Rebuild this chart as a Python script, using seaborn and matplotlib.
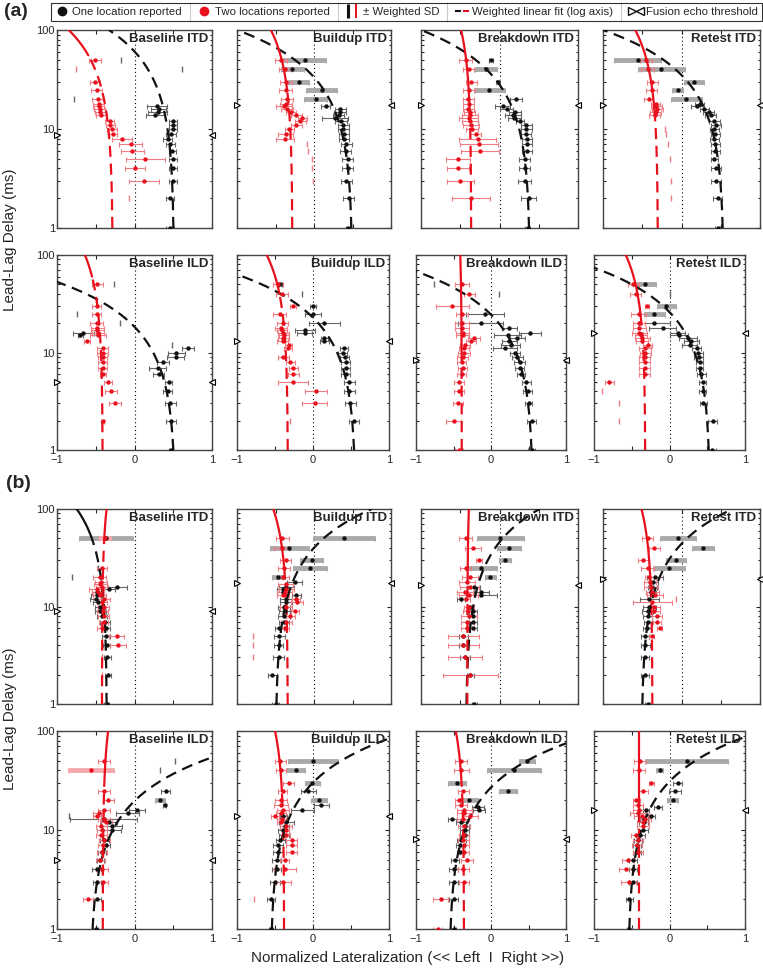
import numpy as np
import matplotlib
matplotlib.use("Agg")
import matplotlib.pyplot as plt
import seaborn as sns
from matplotlib.lines import Line2D
from matplotlib.legend_handler import HandlerTuple
from matplotlib.ticker import NullFormatter

N = np.nan

# lead-lag delays (ms) at which the lateralization was measured
delays = [1, 2, 3, 4, 5, 6, 7, 8, 9, 10, 11, 12, 13, 14, 15, 16, 17, 18, 20, 25, 30, 40, 50]

# ---------------- (a) ITD ----------------
a_base_itd_red_x = [N, -0.07, 0.12, 0.01, 0.14, -0.03, -0.05, -0.16, -0.28, -0.29, -0.31, -0.32, N, -0.43, -0.44, -0.45, -0.46, -0.46, -0.47, -0.49, -0.51, -0.75, -0.51]
a_base_itd_red_sd = [N, 0, 0.19, 0.13, 0.25, 0.15, 0.15, 0.13, 0.06, 0.06, 0.06, 0.06, N, 0.07, 0.07, 0.07, 0.07, 0.07, 0.08, 0.07, 0.07, 0, 0.08]
a_base_itd_blk_x = [0.46, 0.46, 0.5, 0.5, 0.5, 0.49, 0.46, 0.43, 0.47, 0.5, 0.5, 0.5, N, 0.27, 0.3, 0.31, 0.29, N, -0.78, N, N, 0.61, -0.17]
a_base_itd_blk_sd = [0.05, 0.05, 0.05, 0.05, 0.05, 0.05, 0.06, 0.06, 0.06, 0.05, 0.05, 0.05, N, 0.12, 0.12, 0.1, 0.13, N, 0, N, N, 0, 0]

a_build_itd_red_x = [N, N, -0.01, -0.03, -0.02, -0.08, -0.09, -0.38, -0.37, -0.32, -0.23, -0.18, -0.15, -0.23, -0.3, -0.35, -0.39, -0.36, -0.35, -0.37, -0.36, -0.38, -0.43]
a_build_itd_red_sd = [N, N, 0, 0, 0, 0, 0, 0.12, 0.1, 0.06, 0.07, 0.07, 0.06, 0.07, 0.07, 0.08, 0.1, 0.08, 0.08, 0.08, 0.08, 0.08, 0.08]
a_build_itd_blk_x = [0.44, 0.45, 0.42, 0.44, 0.44, 0.41, 0.42, 0.39, 0.39, 0.38, 0.38, 0.35, 0.27, 0.32, 0.34, 0.34, 0.15, N, 0.02, 0.1, -0.2, -0.28, -0.12]
a_build_itd_blk_sd = [0.03, 0.07, 0.07, 0.07, 0.07, 0.07, 0.07, 0.07, 0.07, 0.07, 0.07, 0.08, 0.17, 0.07, 0.08, 0.07, 0.06, N, 0.15, 0.2, 0.14, 0.15, 0.28]

a_brk_itd_red_x = [N, -0.36, -0.5, -0.53, -0.53, -0.25, -0.26, -0.28, -0.3, -0.35, -0.36, -0.38, -0.39, -0.38, -0.38, -0.4, N, -0.39, -0.4, -0.39, -0.36, -0.39, -0.43]
a_brk_itd_red_sd = [N, 0.24, 0.17, 0.14, 0.15, 0.24, 0.24, 0.23, 0.07, 0.08, 0.1, 0.1, 0.12, 0.1, 0.07, 0.07, N, 0.07, 0.07, 0.08, 0.07, 0.07, 0.08]
a_brk_itd_blk_x = [0.36, 0.37, 0.32, 0.32, 0.32, 0.35, 0.35, 0.35, 0.34, 0.34, 0.34, 0.26, 0.19, 0.17, 0.2, 0.09, 0.04, N, 0.21, -0.13, -0.02, -0.17, -0.11]
a_brk_itd_blk_sd = [0.03, 0.1, 0.08, 0.07, 0.07, 0.06, 0.06, 0.06, 0.06, 0.07, 0.07, 0.05, 0.08, 0.1, 0.08, 0.08, 0.1, N, 0.08, 0.2, 0.02, 0.14, 0.03]

a_ret_itd_red_x = [N, -0.14, -0.13, N, -0.15, N, -0.17, N, -0.2, -0.21, N, N, N, -0.34, -0.33, -0.31, -0.32, -0.33, -0.42, -0.38, -0.37, -0.43, -0.45]
a_ret_itd_red_sd = [N, 0, 0, N, 0, N, 0, N, 0, 0, N, N, N, 0.07, 0.07, 0.07, 0.07, 0.06, 0.06, 0.07, 0.07, 0.08, 0.08]
a_ret_itd_blk_x = [0.46, 0.46, 0.44, 0.44, 0.42, 0.43, 0.43, 0.42, 0.43, 0.42, 0.44, 0.42, N, 0.37, 0.35, 0.29, 0.2, 0.23, 0.06, -0.05, 0.16, -0.26, -0.56]
a_ret_itd_blk_sd = [0.03, 0.06, 0.06, 0.06, 0.05, 0.06, 0.06, 0.06, 0.06, 0.06, 0.06, 0.07, N, 0.07, 0.07, 0.06, 0.08, 0.06, 0.2, 0.07, 0.13, 0.3, 0.3]

# ---------------- (a) ILD ----------------
a_base_ild_red_x = [N, -0.41, -0.25, -0.3, -0.34, -0.41, -0.41, -0.41, -0.41, -0.41, -0.41, N, -0.61, N, -0.47, -0.47, -0.48, -0.48, -0.49, -0.49, -0.49, N, -0.48]
a_base_ild_red_sd = [N, 0.02, 0.08, 0.08, 0.05, 0.04, 0.06, 0.06, 0.06, 0.07, 0.07, N, 0.04, N, 0.1, 0.08, 0.08, 0.08, 0.08, 0.06, 0.06, N, 0.07]
a_base_ild_blk_x = [0.47, 0.47, 0.46, 0.43, 0.44, 0.31, 0.3, 0.37, 0.53, 0.54, 0.69, 0.49, N, N, -0.7, -0.66, N, N, -0.19, -0.74, N, N, -0.27]
a_base_ild_blk_sd = [0.03, 0.07, 0.07, 0.06, 0.05, 0.07, 0.11, 0.08, 0.11, 0.11, 0.08, 0, N, N, 0.03, 0.14, N, N, 0, 0, N, N, 0]

a_build_ild_red_x = [N, -0.3, 0.02, 0.04, -0.26, -0.26, -0.26, -0.3, -0.39, N, -0.33, -0.32, -0.4, -0.39, -0.38, -0.39, -0.41, -0.42, -0.4, -0.44, -0.26, -0.41, -0.46]
a_build_ild_red_sd = [N, 0, 0.17, 0.14, 0.2, 0.07, 0.06, 0.06, 0.07, N, 0.05, 0.05, 0.07, 0.07, 0.07, 0.07, 0.07, 0.08, 0.07, 0.08, 0.04, 0.08, 0.07]
a_build_ild_blk_x = [N, 0.54, 0.49, 0.48, 0.48, 0.43, 0.43, 0.43, 0.42, 0.39, 0.41, N, 0.15, 0.15, N, -0.11, -0.11, N, 0.15, 0.0, 0.0, -0.14, -0.43]
a_build_ild_blk_sd = [N, 0.07, 0.07, 0.07, 0.07, 0.06, 0.06, 0.06, 0.06, 0.06, 0.05, N, 0.06, 0.05, N, 0.1, 0.13, N, 0.2, 0.1, 0.04, 0, 0.02]

a_brk_ild_red_x = [-0.43, -0.5, -0.44, -0.43, -0.43, -0.39, -0.38, -0.39, -0.38, -0.36, -0.36, -0.35, -0.27, -0.23, -0.38, -0.38, N, -0.39, -0.39, -0.39, -0.52, -0.29, -0.39]
a_brk_ild_red_sd = [0.05, 0.1, 0.07, 0.07, 0.07, 0.06, 0.06, 0.06, 0.07, 0.08, 0.07, 0.07, 0.07, 0.08, 0.09, 0.09, N, 0.09, 0.09, 0.08, 0.22, 0.07, 0.09]
a_brk_ild_blk_x = [0.54, 0.54, 0.5, 0.49, 0.47, 0.4, 0.38, 0.38, 0.35, 0.32, 0.19, 0.26, 0.24, 0.35, 0.22, 0.52, N, 0.24, -0.14, -0.08, N, 0.1, -0.76]
a_brk_ild_blk_sd = [0.05, 0.06, 0.05, 0.06, 0.06, 0.05, 0.06, 0.07, 0.07, 0.07, 0.16, 0.13, 0.1, 0.1, 0.18, 0.15, N, 0.1, 0.3, 0.25, N, 0, 0]

a_ret_ild_red_x = [N, -0.67, -0.67, -0.89, -0.8, -0.33, -0.33, -0.33, -0.33, -0.32, -0.33, -0.29, -0.36, -0.36, -0.38, -0.4, N, -0.4, -0.41, -0.41, -0.3, -0.45, -0.48]
a_ret_ild_red_sd = [N, 0, 0, 0, 0.06, 0.07, 0.07, 0.07, 0.07, 0.07, 0.08, 0.06, 0.08, 0.1, 0.08, 0.1, N, 0.09, 0.08, 0.1, 0.03, 0.07, 0.07]
a_ret_ild_blk_x = [0.56, 0.57, 0.45, 0.44, 0.44, 0.42, 0.4, 0.4, 0.39, 0.38, 0.36, 0.27, 0.29, 0.24, 0.13, 0.11, N, -0.09, -0.2, -0.2, -0.04, 0.0, -0.33]
a_ret_ild_blk_sd = [0.05, 0.06, 0.05, 0.05, 0.05, 0.06, 0.05, 0.05, 0.06, 0.06, 0.06, 0.1, 0.1, 0.12, 0.12, 0.1, N, 0.18, 0.2, 0.14, 0.13, 0, 0.15]

# ---------------- (b) ITD ----------------
b_base_itd_red_x = [-0.42, -0.42, -0.42, -0.21, -0.23, -0.42, -0.4, -0.4, -0.41, -0.4, -0.42, -0.4, -0.45, -0.47, -0.49, -0.42, -0.44, -0.43, -0.45, -0.42, N, N, -0.38]
b_base_itd_red_sd = [0, 0, 0, 0.1, 0.1, 0.06, 0.06, 0.07, 0.07, 0.07, 0.07, 0.08, 0.08, 0.08, 0.1, 0.08, 0.08, 0.08, 0.08, 0.07, N, N, 0.08]
b_base_itd_blk_x = [-0.36, -0.34, -0.35, -0.36, -0.37, -0.37, -0.38, -0.42, -0.44, -0.45, -0.47, -0.5, -0.49, -0.49, -0.33, -0.22, N, N, -0.81, -0.47, N, N, -0.37]
b_base_itd_blk_sd = [0.03, 0.04, 0.05, 0.05, 0.05, 0.05, 0.06, 0.06, 0.07, 0.06, 0.06, 0.07, 0.07, 0.06, 0.08, 0.12, N, N, 0, 0, N, N, 0.35]

b_build_itd_red_x = [N, N, -0.79, -0.79, -0.79, -0.38, -0.36, -0.31, -0.25, -0.36, -0.22, -0.23, -0.4, -0.38, -0.36, N, -0.37, N, -0.4, -0.39, -0.37, -0.42, -0.41]
b_build_itd_red_sd = [N, N, 0, 0, 0, 0.06, 0.07, 0.06, 0.05, 0.08, 0.08, 0.05, 0.08, 0.1, 0.1, N, 0.1, N, 0.08, 0.08, 0.07, 0.1, 0.08]
b_build_itd_blk_x = [-0.5, -0.54, -0.46, -0.46, -0.45, -0.45, -0.39, -0.39, -0.38, -0.39, -0.36, -0.36, -0.23, -0.4, -0.4, -0.36, N, -0.25, -0.47, -0.05, -0.03, -0.32, 0.39]
b_build_itd_blk_sd = [0.05, 0.06, 0.07, 0.06, 0.07, 0.06, 0.06, 0.08, 0.07, 0.08, 0.08, 0.08, 0.06, 0.08, 0.08, 0.1, N, 0.1, 0.07, 0.22, 0.15, 0.25, 0.4]

b_brk_itd_red_x = [N, -0.37, -0.44, -0.46, -0.46, -0.41, -0.41, -0.39, -0.4, -0.39, N, -0.43, -0.39, -0.44, N, -0.38, N, -0.41, -0.38, -0.43, -0.26, -0.34, -0.43]
b_brk_itd_red_sd = [N, 0.35, 0.22, 0.2, 0.2, 0.08, 0.08, 0.1, 0.06, 0.06, N, 0.06, 0.12, 0.1, N, 0.12, N, 0.1, 0.1, 0.07, 0.04, 0.1, 0.08]
b_brk_itd_blk_x = [-0.32, -0.37, -0.44, -0.46, -0.46, -0.34, -0.34, -0.34, -0.34, -0.37, N, -0.49, -0.23, -0.23, N, -0.33, N, N, -0.12, -0.23, 0.07, 0.12, 0.01]
b_brk_itd_blk_sd = [0.03, 0.05, 0.06, 0.06, 0.06, 0.05, 0.05, 0.05, 0.05, 0.05, N, 0.05, 0.2, 0.1, N, 0.08, N, N, 0.07, 0.2, 0.08, 0.15, 0.3]

b_ret_itd_red_x = [N, N, N, N, -0.38, -0.28, -0.31, -0.31, -0.35, -0.35, -0.37, -0.07, -0.34, -0.37, N, -0.39, N, -0.4, -0.41, -0.43, -0.49, -0.35, -0.43]
b_ret_itd_red_sd = [N, N, N, N, 0.03, 0.03, 0.05, 0.06, 0.07, 0.07, 0.25, 0, 0.1, 0.08, N, 0.09, N, 0.08, 0.06, 0.08, 0.07, 0.07, 0.07]
b_ret_itd_blk_x = [-0.43, -0.47, -0.47, -0.46, -0.46, -0.44, -0.43, -0.43, -0.43, -0.41, N, -0.41, N, -0.39, N, -0.37, N, -0.36, -0.34, -0.16, -0.07, 0.27, -0.04]
b_ret_itd_blk_sd = [0.03, 0.05, 0.05, 0.06, 0.05, 0.05, 0.05, 0.06, 0.07, 0.08, N, 0.12, N, 0.06, N, 0.06, N, 0.06, 0.1, 0.2, 0.13, 0.14, 0.23]

# ---------------- (b) ILD ----------------
b_base_ild_red_x = [N, -0.6, -0.41, -0.42, -0.44, -0.42, -0.41, -0.39, -0.43, -0.42, -0.43, -0.37, -0.39, -0.48, -0.46, -0.39, N, N, -0.34, -0.39, N, -0.56, -0.39]
b_base_ild_red_sd = [N, 0.07, 0.07, 0.08, 0.06, 0.06, 0.06, 0.07, 0.07, 0.07, 0.07, 0.08, 0.08, 0.05, 0.07, 0.08, N, N, 0.07, 0.08, N, 0.3, 0.08]
b_base_ild_blk_x = [-0.5, -0.48, -0.48, -0.49, -0.44, -0.42, -0.37, -0.39, N, -0.29, -0.29, -0.33, -0.4, -0.84, -0.09, 0.03, N, 0.39, 0.33, 0.4, N, 0.33, 0.52]
b_base_ild_blk_sd = [0.03, 0.05, 0.05, 0.06, 0.05, 0.05, 0.05, 0.06, N, 0.12, 0.13, 0.1, 0.43, 0, 0.15, 0.1, N, 0.02, 0.06, 0.06, N, 0, 0]

b_build_ild_red_x = [N, -0.77, -0.39, -0.37, -0.37, -0.28, -0.28, -0.28, -0.36, -0.36, -0.35, -0.42, -0.41, -0.5, -0.42, -0.4, N, -0.42, -0.42, -0.4, -0.32, -0.42, -0.43]
b_build_ild_red_sd = [N, 0, 0.1, 0.14, 0.06, 0.07, 0.07, 0.07, 0.06, 0.05, 0.08, 0.06, 0.06, 0.05, 0.07, 0.08, N, 0.09, 0.08, 0.06, 0.07, 0.07, 0.07]
b_build_ild_blk_x = [-0.55, -0.55, -0.5, -0.48, -0.48, -0.46, -0.46, -0.43, -0.38, -0.39, -0.37, -0.35, N, -0.39, N, -0.14, N, 0.11, 0.08, -0.06, -0.01, -0.23, 0.0]
b_build_ild_blk_sd = [0.03, 0.05, 0.06, 0.06, 0.06, 0.06, 0.06, 0.06, 0.07, 0.07, 0.06, 0.1, N, 0.05, N, 0.15, N, 0.1, 0.1, 0.1, 0.1, 0.13, 0.33]

b_brk_ild_red_x = [-0.71, -0.67, -0.36, -0.37, -0.32, -0.36, -0.36, -0.37, -0.36, N, -0.36, N, -0.38, -0.28, -0.36, -0.36, N, -0.4, -0.43, -0.37, N, -0.4, -0.4]
b_brk_ild_red_sd = [0.06, 0.1, 0.07, 0.07, 0.08, 0.06, 0.06, 0.07, 0.07, N, 0.08, N, 0.08, 0.1, 0.1, 0.1, N, 0.08, 0.05, 0.07, N, 0.1, 0.08]
b_brk_ild_blk_x = [-0.5, -0.5, -0.5, -0.5, -0.48, -0.41, -0.41, -0.4, -0.35, -0.35, -0.35, -0.4, -0.52, N, N, -0.16, -0.18, N, -0.3, 0.23, -0.46, 0.31, 0.48]
b_brk_ild_blk_sd = [0.03, 0.06, 0.06, 0.06, 0.05, 0.05, 0.06, 0.06, 0.06, 0.06, 0.06, 0.07, 0.06, N, N, 0.08, 0.08, N, 0.12, 0.12, 0.12, 0.36, 0.11]

b_ret_ild_red_x = [N, N, -0.54, -0.57, -0.55, -0.42, -0.43, -0.42, -0.45, N, -0.35, -0.35, -0.33, -0.37, -0.42, -0.4, N, -0.42, -0.44, -0.35, -0.24, -0.41, -0.39]
b_ret_ild_red_sd = [N, N, 0.1, 0.1, 0.08, 0.07, 0.07, 0.07, 0.06, N, 0.08, 0.08, 0.08, 0.1, 0.1, 0.08, N, 0.07, 0.05, 0.06, 0.03, 0.08, 0.08]
b_ret_ild_blk_x = [-0.53, -0.53, -0.48, -0.48, -0.48, -0.43, -0.43, -0.42, -0.39, -0.35, N, -0.34, -0.34, -0.24, N, -0.31, -0.15, N, 0.04, 0.07, 0.11, -0.13, 0.23]
b_ret_ild_blk_sd = [0.03, 0.05, 0.05, 0.05, 0.05, 0.05, 0.05, 0.05, 0.06, 0.06, N, 0.06, 0.05, 0.05, N, 0.04, 0.05, N, 0.07, 0.08, 0.06, 0.05, 0.55]

# weighted linear fits: (intercept, slope per ms, solid above this delay)
a_itd_red_fit = [(-0.28, -0.0057, 55), (-0.28, -0.0028, 25), (-0.36, -0.0013, 15), (-0.30, -0.0029, 13)]
a_itd_blk_fit = [(0.51, -0.0084, None), (0.50, -0.0150, None), (0.39, -0.0139, None), (0.54, -0.0154, None)]
a_ild_red_fit = [(-0.41, -0.0023, 60), (-0.33, -0.0028, 40), (-0.39, -0.0002, 10), (-0.32, -0.0026, 25)]
a_ild_blk_fit = [(0.53, -0.0289, None), (0.565, -0.0248, None), (0.563, -0.0230, None), (0.54, -0.0208, None)]
b_itd_red_fit = [(-0.42, 0.0006, 50), (-0.34, -0.0019, 25), (-0.41, 0.0002, 18), (-0.37, -0.0014, 15)]
b_itd_blk_fit = [(-0.356, -0.0039, 45), (-0.50, 0.0125, None), (-0.43, 0.0094, None), (-0.51, 0.0116, None)]
b_ild_red_fit = [(-0.41, 0.0007, 30), (-0.38, -0.0012, 25), (-0.36, -0.0011, 30), (-0.41, 0.0, 15)]
b_ild_blk_fit = [(-0.57, 0.0290, None), (-0.56, 0.0186, None), (-0.56, 0.0208, None), (-0.55, 0.0178, None)]

# fusion echo thresholds (ms)
a_itd_thresh = [8.7, 17.5, 17.5, 17.5]
a_ild_thresh = [5.0, 13.2, 8.3, 15.9]
b_itd_thresh = [9.0, 17.6, 16.7, 19.0]
b_ild_thresh = [5.0, 13.8, 8.2, 16.0]

# delays whose SD bar is drawn heavy (low weight)
a_itd_thick_blk = [[], [20, 25, 30, 40, 50], [25, 30, 40], [20, 25, 30, 40, 50]]
a_ild_thick_blk = [[], [], [], [25, 30, 50]]
b_itd_thick_blk = [[50], [20, 25, 30, 40, 50], [20, 25, 30, 40, 50], [25, 30, 40, 50]]
b_ild_thick_blk = [[20], [20, 30, 40, 50], [20, 25, 30, 40, 50], [20, 40, 50]]
b_itd_thick_red = [[50], [], [], []]
b_ild_thick_red = [[40], [], [], []]

stages = ["Baseline", "Buildup", "Breakdown", "Retest"]

RED = "#e8101c"
RED_BAR = "#f07c84"
RED_THICK = "#f5a9ae"
BLK = "#111111"
BLK_BAR = "#666666"
BLK_THICK = "#a9a9a9"

sns.set_style("ticks")
plt.rcParams['font.family'] = ['Liberation Sans', 'DejaVu Sans']
plt.rcParams['axes.edgecolor'] = '#444444'
plt.rcParams['axes.linewidth'] = 1.0

W, H = 763, 972
fig = plt.figure(figsize=(W / 100, H / 100), dpi=100)

cols_itd = [(57, 212), (237, 391), (421, 578), (603, 760)]
cols_ild = [(57, 212), (237, 389), (416, 566), (594, 745)]


def add_ax(x0, x1, y0, y1):
    return fig.add_axes([x0 / W, 1 - y1 / H, (x1 - x0) / W, (y1 - y0) / H])


def draw_series(ax, xs, sds, thick, dot_c, bar_c, thick_c):
    d = np.array(delays, float)
    m = np.array(xs, float)
    s = np.array(sds, float)
    ok = ~np.isnan(m)
    has_sd = ok & (np.nan_to_num(s) > 0)
    lone = ok & (np.nan_to_num(s, nan=-1) == 0)
    fat = has_sd & np.isin(d, thick)
    thin = has_sd & ~fat
    if thin.any():
        ax.errorbar(m[thin], d[thin], xerr=s[thin], fmt='none', ecolor=bar_c,
                    elinewidth=0.8, capsize=1.8, capthick=0.8, zorder=2)
    if fat.any():
        ax.errorbar(m[fat], d[fat], xerr=s[fat], fmt='none', ecolor=thick_c,
                    elinewidth=3.5, capsize=1.8, capthick=0.8, zorder=2)
    if lone.any():
        ax.plot(m[lone], d[lone], linestyle='none', marker='|', markersize=4,
                color=bar_c, zorder=2)
    if has_sd.any():
        sns.scatterplot(x=m[has_sd], y=d[has_sd], color=dot_c, s=10,
                        linewidth=0, ax=ax, zorder=4)


def draw_fit(ax, fit, color):
    a, b, solid_above = fit
    yy = np.geomspace(1, 100, 400)
    xx = a + b * yy
    cut = solid_above if solid_above else 1000
    lo = yy <= cut
    hi = yy >= cut
    sns.lineplot(x=xx[lo], y=yy[lo], sort=False, estimator=None, color=color,
                 linestyle=(0, (5, 3)), linewidth=1.6, ax=ax, zorder=3)
    if hi.any():
        sns.lineplot(x=xx[hi], y=yy[hi], sort=False, estimator=None, color=color,
                     linewidth=1.6, ax=ax, zorder=3)


def panel(ax, title, rx, rsd, bx, bsd, rfit, bfit, thr, thick_r, thick_b,
          show_x, show_y):
    ax.axvline(0, color='black', linewidth=0.8, linestyle=(0, (1, 2.5)), zorder=1)
    draw_series(ax, bx, bsd, thick_b, BLK, BLK_BAR, BLK_THICK)
    draw_series(ax, rx, rsd, thick_r, RED, RED_BAR, RED_THICK)
    draw_fit(ax, bfit, BLK)
    draw_fit(ax, rfit, RED)
    ax.plot([-1], [thr], marker='>', mfc='white', mec='black', ms=4, mew=0.8,
            clip_on=False, zorder=5)
    ax.plot([1], [thr], marker='<', mfc='white', mec='black', ms=4, mew=0.8,
            clip_on=False, zorder=5)
    ax.set_yscale('log')
    ax.set_xlim(-1, 1)
    ax.set_ylim(1, 100)
    ax.set_xticks([-1, -0.5, 0, 0.5, 1])
    ax.set_xticklabels(['\u22121', '', '0', '', '1'])
    ax.set_yticks([1, 10, 100])
    ax.set_yticklabels(['1', '10', '100'])
    ax.yaxis.set_minor_formatter(NullFormatter())
    ax.tick_params(which='both', direction='in', top=True, right=True,
                   labelsize=8, width=0.8, pad=1.5,
                   labelbottom=show_x, labelleft=show_y)
    ax.tick_params(axis='x', which='major', pad=3.5)
    ax.tick_params(which='major', length=3)
    ax.tick_params(which='minor', length=1.8)
    ax.set_xlabel('')
    ax.set_ylabel('')
    ax.text(0.975, 0.985, title, transform=ax.transAxes, ha='right', va='top',
            fontsize=9.5, fontweight='bold', zorder=6)


groups = [
    ("a", "ITD", (30, 228), cols_itd, False,
     [(a_base_itd_red_x, a_base_itd_red_sd, a_base_itd_blk_x, a_base_itd_blk_sd),
      (a_build_itd_red_x, a_build_itd_red_sd, a_build_itd_blk_x, a_build_itd_blk_sd),
      (a_brk_itd_red_x, a_brk_itd_red_sd, a_brk_itd_blk_x, a_brk_itd_blk_sd),
      (a_ret_itd_red_x, a_ret_itd_red_sd, a_ret_itd_blk_x, a_ret_itd_blk_sd)],
     a_itd_red_fit, a_itd_blk_fit, a_itd_thresh, [[], [], [], []], a_itd_thick_blk),
    ("a", "ILD", (255, 450), cols_ild, True,
     [(a_base_ild_red_x, a_base_ild_red_sd, a_base_ild_blk_x, a_base_ild_blk_sd),
      (a_build_ild_red_x, a_build_ild_red_sd, a_build_ild_blk_x, a_build_ild_blk_sd),
      (a_brk_ild_red_x, a_brk_ild_red_sd, a_brk_ild_blk_x, a_brk_ild_blk_sd),
      (a_ret_ild_red_x, a_ret_ild_red_sd, a_ret_ild_blk_x, a_ret_ild_blk_sd)],
     a_ild_red_fit, a_ild_blk_fit, a_ild_thresh, [[], [], [], []], a_ild_thick_blk),
    ("b", "ITD", (509, 704), cols_itd, False,
     [(b_base_itd_red_x, b_base_itd_red_sd, b_base_itd_blk_x, b_base_itd_blk_sd),
      (b_build_itd_red_x, b_build_itd_red_sd, b_build_itd_blk_x, b_build_itd_blk_sd),
      (b_brk_itd_red_x, b_brk_itd_red_sd, b_brk_itd_blk_x, b_brk_itd_blk_sd),
      (b_ret_itd_red_x, b_ret_itd_red_sd, b_ret_itd_blk_x, b_ret_itd_blk_sd)],
     b_itd_red_fit, b_itd_blk_fit, b_itd_thresh, b_itd_thick_red, b_itd_thick_blk),
    ("b", "ILD", (731, 929), cols_ild, True,
     [(b_base_ild_red_x, b_base_ild_red_sd, b_base_ild_blk_x, b_base_ild_blk_sd),
      (b_build_ild_red_x, b_build_ild_red_sd, b_build_ild_blk_x, b_build_ild_blk_sd),
      (b_brk_ild_red_x, b_brk_ild_red_sd, b_brk_ild_blk_x, b_brk_ild_blk_sd),
      (b_ret_ild_red_x, b_ret_ild_red_sd, b_ret_ild_blk_x, b_ret_ild_blk_sd)],
     b_ild_red_fit, b_ild_blk_fit, b_ild_thresh, b_ild_thick_red, b_ild_thick_blk),
]

for grp, cue, (y0, y1), cols, show_x, data, rfits, bfits, thrs, thick_r, thick_b in groups:
    for i, (x0, x1) in enumerate(cols):
        ax = add_ax(x0, x1, y0, y1)
        rx, rsd, bx, bsd = data[i]
        panel(ax, f"{stages[i]} {cue}", rx, rsd, bx, bsd, rfits[i], bfits[i],
              thrs[i], thick_r[i], thick_b[i], show_x, i == 0)

# panel letters and shared labels
fig.text(4 / W, 1 - 12 / H, "(a)", fontsize=14, fontweight='bold', va='center')
fig.text(6 / W, 1 - 483 / H, "(b)", fontsize=14, fontweight='bold', va='center')
fig.text(10 / W, 1 - 240 / H, "Lead-Lag Delay (ms)", rotation=90,
         fontsize=11, ha='center', va='center')
fig.text(10 / W, 1 - 719 / H, "Lead-Lag Delay (ms)", rotation=90,
         fontsize=11, ha='center', va='center')
fig.text(408 / W, 1 - 958 / H, "Normalized Lateralization (<< Left  I  Right >>)",
         fontsize=11, ha='center', va='center')

# legend
h_one = Line2D([], [], marker='o', color=BLK, linestyle='none', markersize=6)
h_two = Line2D([], [], marker='o', color=RED, linestyle='none', markersize=6)
h_sd = (Line2D([], [], marker='|', color=BLK, linestyle='none', markersize=10, mew=2.2),
        Line2D([], [], marker='|', color=RED, linestyle='none', markersize=10, mew=1.4))
h_fit = (Line2D([], [], color=BLK, linestyle=(0, (3, 1.5)), linewidth=1.5),
         Line2D([], [], color=RED, linestyle=(0, (3, 1.5)), linewidth=1.5))
h_thr = (Line2D([], [], marker='>', mfc='white', mec=BLK, linestyle='none', markersize=6),
         Line2D([], [], marker='<', mfc='white', mec=BLK, linestyle='none', markersize=6))
labels = ["One location reported", "Two locations reported", "\u00b1 Weighted SD",
          "Weighted linear fit (log axis)", "Fusion echo threshold"]
colsp = 1.4
lfs = 8.2
leg = fig.legend([h_one, h_two, h_sd, h_fit, h_thr], labels, ncol=5,
                 loc='upper left', bbox_to_anchor=(51 / W, 1 - 3 / H),
                 fontsize=lfs, frameon=True, fancybox=False, edgecolor='black',
                 handlelength=1.2, handletextpad=0.3, columnspacing=colsp,
                 borderpad=0.35, borderaxespad=0,
                 handler_map={tuple: HandlerTuple(ndivide=None, pad=0.2)})
leg.get_frame().set_linewidth(0.8)

fig.canvas.draw()
rend = fig.canvas.get_renderer()
lb = leg.get_window_extent(rend)
sp_px = colsp * lfs * fig.dpi / 72
for t in leg.get_texts()[:-1]:
    tb = t.get_window_extent(rend)
    xs = (tb.x1 + sp_px / 2) / fig.bbox.width
    fig.add_artist(Line2D([xs, xs], [lb.y0 / fig.bbox.height, lb.y1 / fig.bbox.height],
                          transform=fig.transFigure, color='black', linewidth=0.8))

fig.savefig("out.png", dpi=100)
